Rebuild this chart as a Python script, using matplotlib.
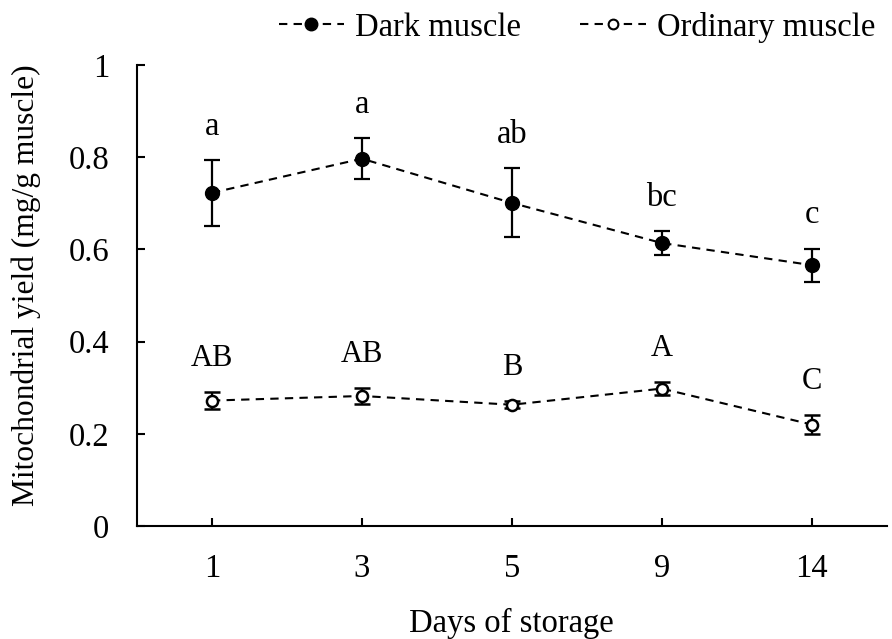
import numpy as np
import matplotlib
matplotlib.use("Agg")
import matplotlib.pyplot as plt
from matplotlib.lines import Line2D

plt.rcParams['font.family'] = ['Liberation Serif', 'DejaVu Serif']

# storage days and mitochondrial yield (mg/g muscle)
days = ['1', '3', '5', '9', '14']
dark_mean = [0.723, 0.797, 0.701, 0.614, 0.566]
dark_err = [0.071, 0.044, 0.075, 0.026, 0.036]
dark_sig = ['a', 'a', 'ab', 'bc', 'c']

ord_mean = [0.272, 0.282, 0.263, 0.298, 0.220]
ord_err = [0.018, 0.017, 0.008, 0.014, 0.020]
ord_sig = ['AB', 'AB', 'B', 'A', 'C']

x = np.arange(len(days))
fs = 23.5

fig = plt.figure(figsize=(8.92, 6.39), dpi=100)
ax = fig.add_axes([0.1536, 0.177, 0.8404, 0.721])

dash = (0, (4, 3))
ax.errorbar(x, dark_mean, yerr=dark_err, fmt='o', color='black', ms=10,
            ls=dash, lw=1.5, elinewidth=1.6, capsize=6, capthick=1.6)
ax.errorbar(x, ord_mean, yerr=ord_err, fmt='o', color='black', ms=8,
            mfc='white', mec='black', mew=1.8, ls=dash, lw=1.5,
            elinewidth=1.6, capsize=6, capthick=2.2)

# significance letters above each error bar
for xi, m, e, s in zip(x, dark_mean, dark_err, dark_sig):
    ax.annotate(s, (xi, m + e), xytext=(0, 24), textcoords='offset points',
                ha='center', va='center', fontsize=fs)
for xi, m, e, s in zip(x, ord_mean, ord_err, ord_sig):
    ax.annotate(s, (xi, m + e), xytext=(0, 24), textcoords='offset points',
                ha='center', va='center', fontsize=fs - 1.5)

ax.set_xlim(-0.5, 4.5)
ax.set_ylim(0, 1)
ax.set_xticks(x)
ax.set_xticklabels(days)
ax.set_yticks([0, 0.2, 0.4, 0.6, 0.8, 1])
ax.set_yticklabels(['0', '0.2', '0.4', '0.6', '0.8', '1'])
ax.tick_params(direction='in', length=6, width=1.5, labelsize=fs)
ax.tick_params(axis='y', pad=20)
ax.tick_params(axis='x', pad=20)

for side in ['top', 'right']:
    ax.spines[side].set_visible(False)
for side in ['left', 'bottom']:
    ax.spines[side].set_linewidth(1.5)

ax.set_xlabel('Days of storage', fontsize=fs, labelpad=17)
ax.set_ylabel('Mitochondrial yield (mg/g muscle)', fontsize=fs - 0.8)
ax.yaxis.set_label_coords(-0.128, 0.523)

handles = [
    Line2D([], [], color='black', ls=dash, lw=1.5, marker='o', ms=9),
    Line2D([], [], color='black', ls=dash, lw=1.5, marker='o', ms=7,
           mfc='white', mew=1.5),
]
ax.legend(handles, ['Dark muscle', 'Ordinary muscle'], loc='lower center',
          bbox_to_anchor=(0.587, 1.0), ncol=2, frameon=False, fontsize=fs,
          handlelength=2.0, columnspacing=1.8, handletextpad=0.35,
          borderaxespad=0.29)

fig.savefig('out.png', dpi=100)
